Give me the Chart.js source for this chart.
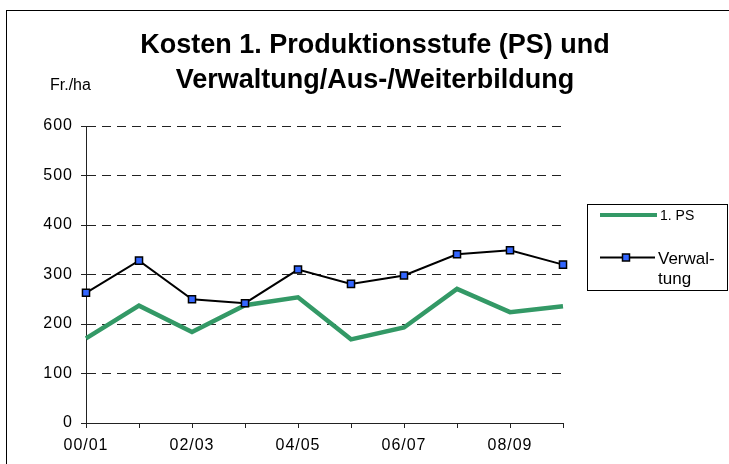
<!DOCTYPE html>
<html>
<head>
<meta charset="utf-8">
<script src="https://cdn.jsdelivr.net/npm/chart.js@4/dist/chart.umd.min.js"></script>
<style>
  html, body { margin: 0; padding: 0; background: #ffffff; }
  #wrap { position: relative; width: 729px; height: 464px; }
</style>
</head>
<body>
<div id="wrap"><canvas id="c" width="729" height="464"></canvas></div>
<script>
const categories = ['00/01','01/02','02/03','03/04','04/05','05/06','06/07','07/08','08/09','09/10'];
const psValues = [171, 237, 184, 238, 254, 169, 193, 271, 224, 236];
const verwValues = [263, 328, 250, 242, 310, 281, 298, 341, 349, 320];
const yTicks = [0, 100, 200, 300, 400, 500, 600];
const titleLines = ['Kosten 1. Produktionsstufe (PS) und', 'Verwaltung/Aus-/Weiterbildung'];
const unitLabel = 'Fr./ha';
const legendLabels = ['1. PS', ['Verwal-', 'tung']];

const GREEN = '#339966';
const BLUE = '#3366ff';

const decor = {
  id: 'decor',
  beforeDraw(chart) {
    const ctx = chart.ctx;
    ctx.save();
    ctx.fillStyle = '#ffffff';
    ctx.fillRect(0, 0, chart.width, chart.height);
    ctx.restore();
    ctx.letterSpacing = '1px';
  },
  afterDraw(chart) {
    const ctx = chart.ctx;
    ctx.save();
    ctx.letterSpacing = '0px';
    // frame
    ctx.strokeStyle = '#000000';
    ctx.lineWidth = 1;
    ctx.strokeRect(6.5, 10.5, 740, 480);
    // title
    ctx.fillStyle = '#000000';
    ctx.textAlign = 'center';
    ctx.textBaseline = 'alphabetic';
    ctx.font = 'bold 27px "Liberation Sans", Arial, sans-serif';
    ctx.fillText(titleLines[0], 375, 53);
    ctx.fillText(titleLines[1], 375, 88);
    // unit label
    ctx.font = '16px "Liberation Sans", Arial, sans-serif';
    ctx.textAlign = 'left';
    ctx.fillText(unitLabel, 50, 90);
    // legend box
    ctx.strokeRect(587.5, 204.5, 140, 86);
    ctx.lineCap = 'butt';
    ctx.strokeStyle = GREEN;
    ctx.lineWidth = 4;
    ctx.beginPath(); ctx.moveTo(600, 215); ctx.lineTo(657, 215); ctx.stroke();
    ctx.strokeStyle = '#000000';
    ctx.lineWidth = 2;
    ctx.beginPath(); ctx.moveTo(600, 257.5); ctx.lineTo(655, 257.5); ctx.stroke();
    ctx.fillStyle = BLUE;
    ctx.lineWidth = 1.5;
    ctx.fillRect(622.5, 254, 7, 7);
    ctx.strokeRect(622.5, 254, 7, 7);
    ctx.fillStyle = '#000000';
    ctx.font = '14px "Liberation Sans", Arial, sans-serif';
    ctx.fillText(legendLabels[0], 660, 220);
    ctx.font = '17px "Liberation Sans", Arial, sans-serif';
    ctx.fillText(legendLabels[1][0], 658, 263.5);
    ctx.fillText(legendLabels[1][1], 658, 283.5);
    ctx.restore();
  }
};

new Chart(document.getElementById('c'), {
  type: 'line',
  data: {
    labels: categories,
    datasets: [
      {
        label: '1. PS',
        data: psValues,
        borderColor: GREEN,
        backgroundColor: GREEN,
        borderWidth: 4.5,
        pointRadius: 0,
        tension: 0,
        fill: false,
        order: 1
      },
      {
        label: 'Verwaltung',
        data: verwValues,
        borderColor: '#000000',
        backgroundColor: BLUE,
        borderWidth: 2,
        pointStyle: 'rect',
        pointRadius: 5,
        pointBorderWidth: 1.5,
        pointBorderColor: '#000000',
        pointBackgroundColor: BLUE,
        tension: 0,
        fill: false,
        order: 0
      }
    ]
  },
  options: {
    responsive: false,
    animation: false,
    devicePixelRatio: 1,
    layout: { padding: { left: 0, right: 166, top: 126, bottom: 0 } },
    plugins: {
      legend: { display: false },
      title: { display: false },
      tooltip: { enabled: false }
    },
    scales: {
      x: {
        type: 'category',
        offset: false,
        afterFit(scale) { scale.height = 41; },
        grid: {
          display: true,
          drawOnChartArea: false,
          drawTicks: true,
          tickLength: 5,
          tickColor: '#222222',
          tickBorderDash: []
        },
        border: { display: true, color: '#222222', width: 1 },
        ticks: {
          autoSkip: false,
          maxRotation: 0,
          minRotation: 0,
          padding: 8,
          color: '#000000',
          font: { size: 16, family: '"Liberation Sans", Arial, sans-serif' },
          callback(value, index) { return index % 2 === 0 ? categories[index] : ''; }
        }
      },
      y: {
        min: 0,
        max: 600,
        afterFit(scale) { scale.width = 86; },
        afterBuildTicks(scale) { scale.ticks = yTicks.map(v => ({ value: v })); },
        grid: {
          color: '#222222',
          lineWidth: 1,
          drawTicks: true,
          tickLength: 5,
          tickColor: '#222222',
          tickBorderDash: [],
          borderDash: [9, 6]
        },
        border: { display: true, color: '#222222', width: 1, dash: [9, 6] },
        ticks: {
          padding: 8,
          color: '#000000',
          font: { size: 16, family: '"Liberation Sans", Arial, sans-serif' }
        }
      }
    }
  },
  plugins: [decor]
});
</script>
</body>
</html>
